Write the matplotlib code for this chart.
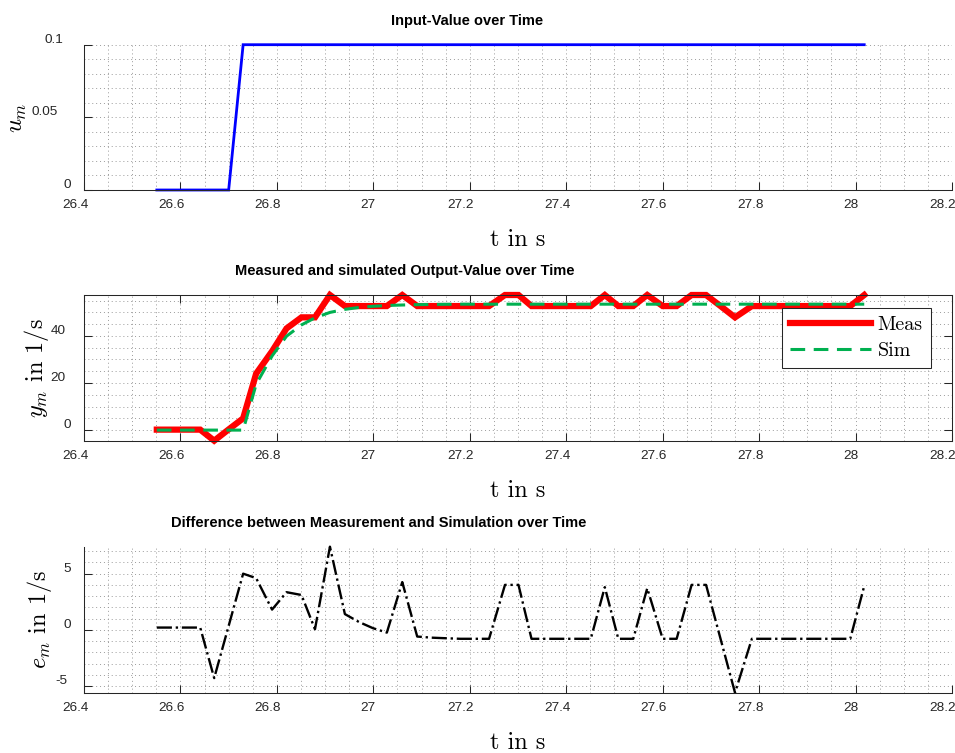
import matplotlib
matplotlib.use("Agg")
import matplotlib.pyplot as plt
from matplotlib.ticker import MultipleLocator
from matplotlib.transforms import offset_copy, blended_transform_factory

plt.rcParams['mathtext.fontset'] = 'cm'
plt.rcParams['axes.unicode_minus'] = False

# ---- data -------------------------------------------------------------
t = [26.551, 26.581, 26.611, 26.641, 26.670, 26.700, 26.730, 26.757, 26.790, 26.820,
     26.851, 26.879, 26.910, 26.941, 26.970, 26.999, 27.028, 27.060, 27.091, 27.121,
     27.150, 27.180, 27.210, 27.240, 27.273, 27.301, 27.328, 27.359, 27.390, 27.420,
     27.451, 27.480, 27.508, 27.539, 27.568, 27.600, 27.629, 27.660, 27.690, 27.720,
     27.750, 27.785, 27.814, 27.843, 27.872, 27.902, 27.931, 27.960, 27.989, 28.018]

u_in = [0, 0, 0, 0, 0, 0, 0.1, 0.1, 0.1, 0.1,
        0.1, 0.1, 0.1, 0.1, 0.1, 0.1, 0.1, 0.1, 0.1, 0.1,
        0.1, 0.1, 0.1, 0.1, 0.1, 0.1, 0.1, 0.1, 0.1, 0.1,
        0.1, 0.1, 0.1, 0.1, 0.1, 0.1, 0.1, 0.1, 0.1, 0.1,
        0.1, 0.1, 0.1, 0.1, 0.1, 0.1, 0.1, 0.1, 0.1, 0.1]

y_meas = [0.2, 0.2, 0.2, 0.2, -4.5, 0.3, 5.0, 24.0, 33.5, 43.2,
          47.9, 47.9, 57.4, 52.7, 52.7, 52.7, 52.7, 57.4, 52.7, 52.7,
          52.7, 52.7, 52.7, 52.7, 57.4, 57.4, 52.7, 52.7, 52.7, 52.7,
          52.7, 57.4, 52.7, 52.7, 57.4, 52.7, 52.7, 57.4, 57.4, 52.7,
          47.9, 52.7, 52.7, 52.7, 52.7, 52.7, 52.7, 52.7, 52.7, 57.4]

y_sim = [0, 0, 0, 0, 0, 0, 0, 19.5, 31.5, 39.9,
         44.7, 47.7, 50.0, 51.3, 52.1, 52.6, 52.95, 53.15, 53.3, 53.4,
         53.45, 53.5, 53.5, 53.5, 53.5, 53.5, 53.5, 53.5, 53.5, 53.5,
         53.5, 53.5, 53.5, 53.5, 53.5, 53.5, 53.5, 53.5, 53.5, 53.5,
         53.5, 53.5, 53.5, 53.5, 53.5, 53.5, 53.5, 53.5, 53.5, 53.5]

e_diff = [0.2, 0.2, 0.2, 0.2, -4.3, 0.35, 5.0, 4.6, 1.8, 3.35,
          3.1, 0.05, 7.4, 1.4, 0.7, 0.15, -0.25, 4.25, -0.6, -0.7,
          -0.75, -0.8, -0.8, -0.8, 4.0, 4.0, -0.8, -0.8, -0.8, -0.8,
          -0.8, 3.8, -0.8, -0.8, 3.7, -0.8, -0.8, 4.0, 4.0, -0.8,
          -5.6, -0.8, -0.8, -0.8, -0.8, -0.8, -0.8, -0.8, -0.8, 3.9]

x_ticks = [26.4, 26.6, 26.8, 27.0, 27.2, 27.4, 27.6, 27.8, 28.0, 28.2]
x_tick_labels = ['26.4', '26.6', '26.8', '27', '27.2', '27.4', '27.6', '27.8', '28', '28.2']
u_ticks, u_tick_labels = [0, 0.05, 0.1], ['0', '0.05', '0.1']
y_ticks, y_tick_labels = [0, 20, 40], ['0', '20', '40']
e_ticks, e_tick_labels = [-5, 0, 5], ['-5', '0', '5']

titles = ['Input-Value over Time',
          'Measured and simulated Output-Value over Time',
          'Difference between Measurement and Simulation over Time']
ylabels = [r'$u_m$', r'$y_m$ in 1/s', r'$e_m$ in 1/s']
xlabel = 't in s'
legend_labels = ['Meas', 'Sim']

# ---- layout -----------------------------------------------------------
W, H, DPI = 955, 753, 100
fig = plt.figure(figsize=(W / DPI, H / DPI), dpi=DPI)
fig.patch.set_facecolor('white')


def axes_px(left, top, right, bottom):
    return fig.add_axes([left / W, 1 - bottom / H, (right - left) / W, (bottom - top) / H])


ax_u = axes_px(84, 44.7, 952, 190)
ax_y = axes_px(84, 295, 952, 440.7)
ax_e = axes_px(84, 546.7, 952, 692.7)
axes = [ax_u, ax_y, ax_e]

AX_COLOR = '#262626'
TICK_FONT = dict(family='Liberation Sans', size=9.7, color=AX_COLOR)
TITLE_FONT = dict(family='Liberation Sans', size=10.5, weight='bold', color='black')
TEX_FONT = dict(family='cmr10', size=17.5, color='black')

# ---- curves (drawn in full width up to the axis limits) ---------------
ax_u.plot(t, u_in, color='#0000FF', lw=2.0, solid_joinstyle='miter', clip_on=False)
l_meas, = ax_y.plot(t, y_meas, color='#FF0000', lw=4.5, solid_joinstyle='miter',
                    label=legend_labels[0], clip_on=False)
l_sim, = ax_y.plot(t, y_sim, color='#00B050', lw=2.2, dashes=(4.8, 2.8),
                   label=legend_labels[1], clip_on=False)
ax_e.plot(t, e_diff, color='black', lw=1.7, linestyle='-.', clip_on=False)

ax_u.set_ylim(min(u_in), max(u_in))
ax_y.set_ylim(min(y_meas), max(y_meas))
ax_e.set_ylim(min(e_diff), max(e_diff))

minor_y = [0.01, 5, 1]
major_y = [u_ticks, y_ticks, e_ticks]
for ax, my, yt in zip(axes, minor_y, major_y):
    ax.set_xlim(26.4, 28.2)
    ax.set_xticks(x_ticks)
    ax.set_yticks(yt)
    ax.xaxis.set_minor_locator(MultipleLocator(0.05))
    ax.yaxis.set_minor_locator(MultipleLocator(my))
    ax.set_axisbelow(True)
    ax.grid(which='both', color='#9a9a9a', lw=0.7, linestyle=(0, (1, 3)))
    ax.tick_params(which='major', direction='in', length=6, width=0.75,
                   color=AX_COLOR, labelbottom=False, labelleft=False)
    ax.tick_params(which='minor', length=0)
    for s in ax.spines.values():
        s.set_color(AX_COLOR)
        s.set_linewidth(0.75)

for ax in (ax_u, ax_e):
    ax.spines['top'].set_visible(False)
    ax.spines['right'].set_visible(False)
ax_y.tick_params(which='major', top=True, right=True)

# ---- axis labels ------------------------------------------------------
ylabel_x = [-0.0766, -0.0547, -0.0518]
for ax, lab, lx in zip(axes, ylabels, ylabel_x):
    ax.set_ylabel(lab, fontdict=TEX_FONT, va='center')
    ax.yaxis.set_label_coords(lx, 0.5)
    ax.set_xlabel(xlabel, fontdict=TEX_FONT, va='center')
    ax.xaxis.set_label_coords(0.5, -50 / 145.7)

leg = ax_y.legend(handles=[l_meas, l_sim], loc='upper right',
                  bbox_to_anchor=(0.9758, 0.913), borderaxespad=0,
                  prop=dict(family='cmr10', size=14.5), handlelength=4.0,
                  handletextpad=0.33, labelspacing=0.36, borderpad=0.42,
                  fancybox=False, framealpha=1, edgecolor=AX_COLOR)
leg.get_frame().set_linewidth(0.75)
leg.set_zorder(5)

# ---- tick labels and titles (shifted by a fraction of their width) ----
shifted = []
for ax, yt, ytl, title in zip(axes, major_y,
                              [u_tick_labels, y_tick_labels, e_tick_labels], titles):
    tx = blended_transform_factory(ax.transData, ax.transAxes)
    for xv, s in zip(x_ticks, x_tick_labels):
        txt = ax.text(xv, 0, s, transform=tx, ha='center', va='top', **TICK_FONT)
        shifted.append((txt, tx, -0.335, 0.0, -9.5))
    ty = blended_transform_factory(ax.transAxes, ax.transData)
    for yv, s in zip(yt, ytl):
        txt = ax.text(0, yv, s, transform=ty, ha='right', va='center', **TICK_FONT)
        shifted.append((txt, ty, -0.67, -8.0, 5.0))
    ttl = ax.text(0.5, 1, title, transform=ax.transAxes, ha='center',
                  va='baseline', **TITLE_FONT)
    shifted.append((ttl, ax.transAxes, -0.335, 0.0, 20.0))

fig.canvas.draw()
renderer = fig.canvas.get_renderer()
for txt, base, kw, dx, dy in shifted:
    w = txt.get_window_extent(renderer).width
    txt.set_transform(offset_copy(base, fig, x=dx + kw * w, y=dy, units='dots'))

fig.savefig('out.png', dpi=DPI, facecolor='white')
